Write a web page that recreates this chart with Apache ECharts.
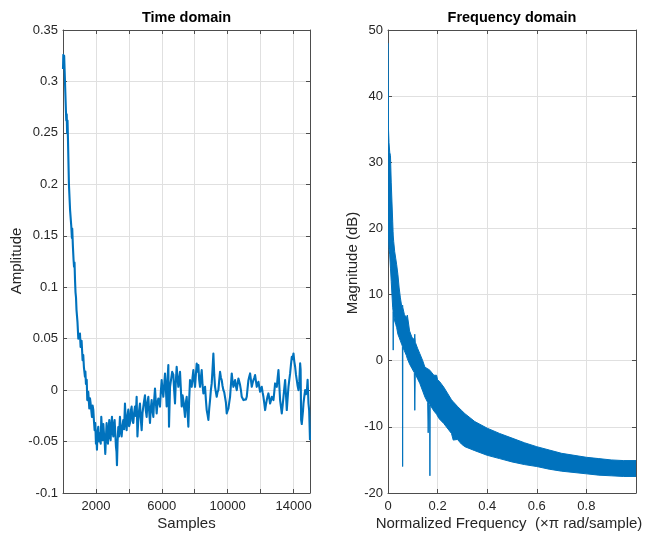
<!DOCTYPE html>
<html>
<head>
<meta charset="utf-8">
<script src="https://cdn.jsdelivr.net/npm/echarts@6/dist/echarts.min.js"></script>
<style>
html, body { margin: 0; padding: 0; background: #ffffff; }
#chart { width: 651px; height: 541px; }
</style>
</head>
<body>
<div id="chart"></div>
<script>
// Impulse response: sample index and amplitude
const timeSamples = [
  0, 20, 45, 70, 100, 140, 176, 200, 225, 250, 275, 300, 360, 430, 500, 540, 560, 600, 640, 670, 700, 730, 760, 790, 820, 850,
  880, 930, 966, 1030, 1068, 1129, 1190, 1230, 1271, 1332, 1360, 1393, 1440, 1474, 1535, 1596, 1640, 1677, 1720, 1758, 1800, 1839, 1880, 1920, 1960,
  2001, 2030, 2062, 2100, 2143, 2190, 2244, 2290, 2325, 2370, 2406, 2450, 2487, 2530, 2568, 2610, 2649, 2690, 2730, 2770, 2811, 2850, 2892, 2930, 2973,
  3010, 3054, 3095, 3135, 3175, 3216, 3250, 3277, 3315, 3358, 3400, 3459, 3510, 3561, 3610, 3662, 3710, 3763, 3810, 3864, 3915, 3966,
  4015, 4067, 4120, 4168, 4220, 4269, 4320, 4371, 4420, 4472, 4520, 4573, 4620, 4675, 4725, 4776, 4830, 4877, 4930, 4979,
  5030, 5080, 5130, 5182, 5230, 5283, 5330, 5384, 5430, 5486, 5535, 5587, 5640, 5688, 5740, 5790, 5840, 5891, 5940, 5992,
  6040, 6093, 6145, 6195, 6245, 6296, 6350, 6397, 6438, 6500, 6559, 6630, 6701, 6750, 6802, 6850, 6903, 6955,
  7005, 7055, 7106, 7160, 7208, 7260, 7309, 7360, 7410, 7460, 7511, 7560, 7613, 7660, 7714, 7765, 7816, 7865, 7917, 7965,
  8018, 8070, 8119, 8170, 8221, 8270, 8322, 8370, 8423, 8475, 8525, 8575, 8626, 8680, 8727, 8780, 8829, 8880, 8930, 8980,
  9031, 9080, 9132, 9185, 9234, 9285, 9335, 9385, 9436, 9490, 9538, 9590, 9639, 9690, 9740, 9790, 9842, 9893, 9943, 9995,
  10045, 10096, 10146, 10197, 10248, 10300, 10349, 10400, 10450, 10500, 10552, 10600, 10653, 10705, 10754, 10805, 10855, 10905, 10957,
  11008, 11058, 11110, 11159, 11210, 11261, 11310, 11362, 11412, 11463, 11515, 11564, 11615, 11666, 11715, 11767, 11818, 11868, 11920, 11970,
  12020, 12071, 12120, 12172, 12225, 12274, 12325, 12375, 12425, 12476, 12527, 12577, 12630, 12679, 12730, 12780, 12830, 12881, 12930, 12983,
  13035, 13084, 13135, 13185, 13235, 13286, 13337, 13388, 13440, 13489, 13540, 13590, 13640, 13692, 13742, 13793, 13845, 13894, 13945, 13996,
  14045, 14097, 14148, 14198, 14250, 14300, 14350, 14401, 14430, 14462, 14500, 14543, 14575, 14604, 14655, 14705, 14755, 14806, 14855, 14908, 14950, 15000
];
const timeAmplitude = [
  0.312, 0.326, 0.318, 0.325, 0.31, 0.29, 0.272, 0.262, 0.268, 0.25, 0.262, 0.245, 0.2, 0.175, 0.16, 0.148, 0.157, 0.14, 0.127, 0.12, 0.124, 0.107, 0.095, 0.09, 0.078, 0.072,
  0.066, 0.05, 0.05, 0.055, 0.042, 0.048, 0.029, 0.034, 0.022, 0.013, 0.018, 0.006, 0.01, -0.0097, -0.0016, -0.0178, -0.008, -0.013, -0.02, -0.026, -0.015, -0.019, -0.03, -0.039, -0.032,
  -0.052, -0.045, -0.058, -0.04, -0.0356, -0.05, -0.042, -0.052, -0.026, -0.04, -0.0486, -0.033, -0.042, -0.05, -0.062, -0.045, -0.032, -0.048, -0.052, -0.038, -0.029, -0.044, -0.0486, -0.035, -0.026,
  -0.04, -0.045, -0.034, -0.029, -0.042, -0.055, -0.06, -0.073, -0.05, -0.036, -0.045, -0.026, -0.04, -0.045, -0.035, -0.029, -0.038, -0.013, -0.03, -0.039, -0.025, -0.019,
  -0.035, -0.032, -0.02, -0.016, -0.03, -0.032, -0.022, -0.016, -0.025, -0.0065, -0.045, -0.029, -0.02, -0.013, -0.028, -0.039, -0.022, -0.016, -0.01, -0.005,
  -0.02, -0.026, -0.012, -0.0065, -0.02, -0.032, -0.018, -0.0097, -0.02, -0.026, -0.01, 0.0016, -0.012, -0.0227, -0.012, -0.0081, -0.012, -0.016, -0.002, 0.0097,
  0.0, -0.0065, 0.005, 0.016, 0.002, -0.016, 0.01, 0.0243, -0.0356, 0.0032, 0.003, 0.0178, 0.015, 0.0, -0.013, 0.008, 0.0227, 0.012,
  0.0032, 0.01, 0.0178, 0.0, -0.016, -0.005, -0.0097, -0.018, -0.026, -0.012, -0.0065, -0.02, -0.0356, -0.01, 0.0097, 0.006, 0.0032, 0.012, 0.0194, 0.01,
  0.0032, 0.015, 0.0259, 0.018, 0.0243, 0.01, 0.0032, 0.012, 0.0194, 0.005, -0.0032, 0.0, 0.0032, -0.01, -0.0194, -0.024, -0.029, -0.018, -0.0097, 0.0,
  0.0065, 0.02, 0.0356, 0.015, 0.0032, -0.002, -0.0065, -0.002, 0.0, 0.01, 0.0178, 0.012, 0.0097, 0.004, 0.0, -0.002, -0.0032, -0.012, -0.0227, -0.02,
  -0.018, -0.012, -0.0065, 0.005, 0.0162, 0.008, 0.0032, 0.007, 0.0097, 0.004, 0.0, 0.006, 0.0113, 0.008, 0.0049, 0.0, -0.0065, -0.008, -0.0097,
  -0.011, -0.0113, -0.009, -0.0065, 0.002, 0.0097, 0.013, 0.0162, 0.01, 0.0032, 0.007, 0.0097, 0.012, 0.0146, 0.009, 0.0032, 0.006, 0.0081, 0.003, -0.0016,
  0.001, 0.0032, -0.002, -0.0065, -0.013, -0.0194, -0.014, -0.0097, -0.006, -0.0032, -0.008, -0.013, -0.01, -0.0065, -0.008, -0.0097, -0.002, 0.0065, 0.005, 0.0032,
  0.012, 0.0194, 0.005, -0.0097, -0.016, -0.0227, -0.015, -0.0065, 0.002, 0.0097, -0.004, -0.0194, -0.008, 0.0032, 0.01, 0.0162, 0.025, 0.0324, 0.03, 0.0356,
  0.028, 0.0227, 0.015, 0.0097, 0.004, 0.0, 0.008, 0.026, 0.02, -0.029, -0.033, -0.0324, -0.02, -0.013, -0.006, 0.0, -0.004, -0.0016, 0.01, -0.013, -0.02, -0.0486
];

// Magnitude response envelope (normalized frequency, upper/lower dB)
const freqPoints = [
  0.000, 0.001, 0.002, 0.004, 0.007, 0.010, 0.013, 0.016, 0.019, 0.0205, 0.021, 0.0215, 0.023, 0.027, 0.031, 0.035, 0.040, 0.045, 0.050, 0.055,
  0.058, 0.059, 0.060, 0.066, 0.074, 0.078, 0.087, 0.097, 0.106, 0.108, 0.110, 0.120, 0.128, 0.140, 0.149, 0.160, 0.162, 0.164, 0.168, 0.169, 0.170,
  0.185, 0.196, 0.200, 0.207, 0.225, 0.256, 0.263, 0.280, 0.296, 0.310, 0.350, 0.400, 0.450, 0.500, 0.550, 0.600, 0.650, 0.700, 0.750,
  0.800, 0.850, 0.900, 0.950, 1.000
];
const magUpperDb = [
  48, 40, 35, 33, 31.5, 31, 27, 24, 21, 19.5, 19, 18.7, 18, 16.5, 15.5, 14.5, 13, 11, 9.5, 8.3,
  8.2, 8.4, 8, 7, 6.5, 6.9, 4.5, 3.5, 3.2, 4.0, 2.8, 1.8, 1.1, 0, -1.0, -1.2, -1.3, -1.3, -1.4, -1.5, -1.5,
  -2.2, -2.2, -2.9, -3.1, -4.0, -5.9, -6.2, -6.9, -7.5, -8.0, -9.2, -10.2, -11.0, -11.7, -12.4, -13.0, -13.5, -14.0, -14.3,
  -14.6, -14.8, -15.0, -15.1, -15.1
];
const magLowerDb = [
  46, 30, 19, 17, 16, 14, 12, 10, 8, 7.5, 1.6, 7.4, 7, 6, 5.5, 5, 4, 3.5, 3, 2.5,
  2.2, -16, 2, 1.5, 0.8, 0.3, -0.5, -1.2, -1.8, -7.5, -2, -2.8, -3.4, -4.6, -5.5, -6.3, -10.9, -6.4, -6.6, -17.4, -6.7,
  -7.6, -8.1, -8.4, -8.8, -9.5, -11.0, -12.0, -11.9, -12.6, -13.0, -13.6, -14.3, -14.8, -15.3, -15.7, -16.0, -16.4, -16.7, -16.9,
  -17.1, -17.3, -17.4, -17.5, -17.5
];

const timeLabelTicks = [2000, 6000, 10000, 14000];
const freqLabelTicks = [0, 0.2, 0.4, 0.6, 0.8];

const FONT = '"Liberation Sans", Arial, Helvetica, sans-serif';
const LINE_BLUE = '#0072BD';
const AXIS_COLOR = '#4d4d4d';
const GRID_COLOR = '#e0e0e0';
const LABEL_COLOR = '#262626';

const plotL = { left: 63, top: 30, width: 247, height: 463 };
const plotR = { left: 388, top: 30, width: 248, height: 463 };

// Top / right edges of the box: line plus inward ticks, no labels
function boxAxis(gridIndex, position, extra) {
  return Object.assign({
    type: 'value',
    gridIndex: gridIndex,
    position: position,
    axisLine: { show: true, onZero: false, lineStyle: { color: AXIS_COLOR, width: 1 } },
    axisTick: { show: true, inside: true, length: 4, lineStyle: { color: AXIS_COLOR } },
    axisLabel: { show: false },
    splitLine: { show: false }
  }, extra);
}

function mainAxis(gridIndex, position, extra, formatter, margin) {
  return Object.assign({
    type: 'value',
    gridIndex: gridIndex,
    position: position,
    axisLine: { show: true, onZero: false, lineStyle: { color: AXIS_COLOR, width: 1 } },
    axisTick: { show: true, inside: true, length: 4, lineStyle: { color: AXIS_COLOR } },
    axisLabel: {
      show: true, color: LABEL_COLOR, fontSize: 13, fontFamily: FONT,
      margin: margin, formatter: formatter,
      showMinLabel: true, showMaxLabel: true
    },
    splitLine: { show: true, lineStyle: { color: GRID_COLOR, width: 1 } }
  }, extra);
}

const timeXRange = { min: 0, max: 15000, interval: 2000 };
const timeYRange = { min: -0.1, max: 0.35, interval: 0.05 };
const freqXRange = { min: 0, max: 1, interval: 0.2 };
const freqYRange = { min: -20, max: 50, interval: 10 };

const option = {
  backgroundColor: '#ffffff',
  animation: false,
  grid: [
    Object.assign({ show: false, outerBoundsMode: 'none' }, plotL),
    Object.assign({ show: false, outerBoundsMode: 'none' }, plotR)
  ],
  xAxis: [
    mainAxis(0, 'bottom', Object.assign({}, timeXRange), function (v) {
      return timeLabelTicks.indexOf(Math.round(v)) >= 0 ? String(Math.round(v)) : '';
    }, 7),
    boxAxis(0, 'top', Object.assign({}, timeXRange)),
    mainAxis(1, 'bottom', Object.assign({}, freqXRange), function (v) {
      const r = Math.round(v * 10) / 10;
      return freqLabelTicks.indexOf(r) >= 0 ? String(r) : '';
    }, 7),
    boxAxis(1, 'top', Object.assign({}, freqXRange))
  ],
  yAxis: [
    mainAxis(0, 'left', Object.assign({}, timeYRange), function (v) {
      return String(Math.round(v * 100) / 100);
    }, 5),
    boxAxis(0, 'right', Object.assign({}, timeYRange)),
    mainAxis(1, 'left', Object.assign({}, freqYRange), function (v) {
      return String(Math.round(v));
    }, 5),
    boxAxis(1, 'right', Object.assign({}, freqYRange))
  ],
  series: [
    {
      name: 'Impulse response',
      type: 'line',
      xAxisIndex: 0,
      yAxisIndex: 0,
      data: timeSamples.map(function (s, i) { return [s, timeAmplitude[i]]; }),
      showSymbol: false,
      symbol: 'none',
      silent: true,
      clip: true,
      lineStyle: { color: LINE_BLUE, width: 2.1, join: 'round' },
      z: 5
    },
    {
      name: 'Magnitude',
      type: 'custom',
      xAxisIndex: 2,
      yAxisIndex: 2,
      silent: true,
      clip: true,
      data: [[0, 0]],
      renderItem: function (params, api) {
        const pts = [];
        for (let i = 0; i < freqPoints.length; i++) {
          pts.push(api.coord([freqPoints[i], magUpperDb[i]]));
        }
        for (let i = freqPoints.length - 1; i >= 0; i--) {
          pts.push(api.coord([freqPoints[i], magLowerDb[i]]));
        }
        return {
          type: 'polygon',
          shape: { points: pts },
          style: { fill: LINE_BLUE, stroke: LINE_BLUE, lineWidth: 1, lineJoin: 'round' }
        };
      },
      z: 5
    }
  ],
  graphic: [
    { type: 'text', x: plotL.left + plotL.width / 2, y: 18,
      style: { text: 'Time domain', fill: '#000000', font: 'bold 14.5px ' + FONT, align: 'center', verticalAlign: 'middle' } },
    { type: 'text', x: plotR.left + plotR.width / 2, y: 18,
      style: { text: 'Frequency domain', fill: '#000000', font: 'bold 14.5px ' + FONT, align: 'center', verticalAlign: 'middle' } },
    { type: 'text', x: plotL.left + plotL.width / 2, y: 524,
      style: { text: 'Samples', fill: LABEL_COLOR, font: '15px ' + FONT, align: 'center', verticalAlign: 'middle' } },
    { type: 'text', x: 509, y: 524,
      style: { text: 'Normalized Frequency  (\u00d7\u03c0 rad/sample)', fill: LABEL_COLOR, font: '15px ' + FONT, align: 'center', verticalAlign: 'middle' } },
    { type: 'text', x: 17, y: 261, rotation: Math.PI / 2,
      style: { text: 'Amplitude', fill: LABEL_COLOR, font: '15px ' + FONT, align: 'center', verticalAlign: 'middle' } },
    { type: 'text', x: 353, y: 263, rotation: Math.PI / 2,
      style: { text: 'Magnitude (dB)', fill: LABEL_COLOR, font: '15px ' + FONT, align: 'center', verticalAlign: 'middle' } }
  ]
};

const chart = echarts.init(document.getElementById('chart'), null, { renderer: 'canvas', width: 651, height: 541 });
chart.setOption(option);
</script>
</body>
</html>
